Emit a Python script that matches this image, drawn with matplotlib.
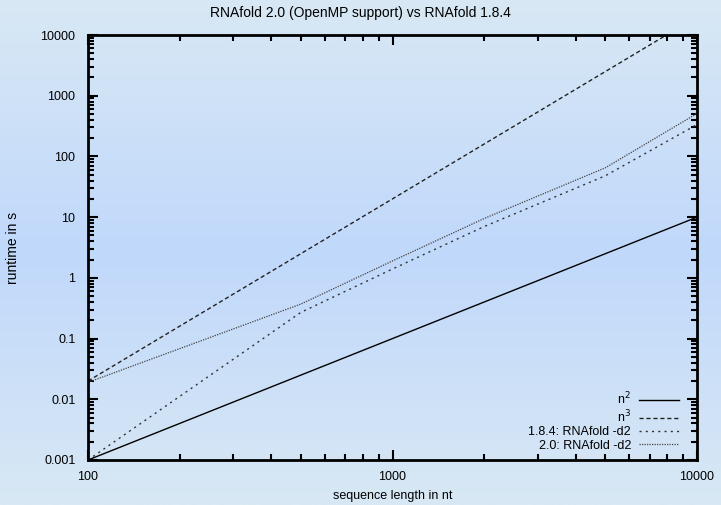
import matplotlib.pyplot as plt
import numpy as np
from matplotlib.colors import LinearSegmentedColormap

plt.rcParams['font.family'] = ['Liberation Sans', 'DejaVu Sans']

# data
length = [100, 500, 1000, 2000, 5000, 10000]
rt_184 = [0.001, 0.27, 1.4, 7.0, 48, 335]
rt_20 = [0.019, 0.37, 1.9, 9.5, 65, 510]
n_ref = [100, 10000]
scale_n2 = 1e-7
scale_n3 = 2e-8

fig = plt.figure(figsize=(7.21, 5.05), dpi=100)

# background gradient
bg = fig.add_axes([0, 0, 1, 1], zorder=-10)
cmap = LinearSegmentedColormap.from_list('bg', ['#d8e8f4', '#c0d8fb', '#d8e8f4'])
grad = np.linspace(0, 1, 256).reshape(-1, 1)
bg.imshow(grad, aspect='auto', cmap=cmap, extent=[0, 1, 0, 1])
bg.axis('off')

ax = fig.add_axes([88 / 721, 1 - 460 / 505, 609 / 721, 425 / 505])
ax.patch.set_alpha(0)

n = np.array(n_ref, dtype=float)
ax.plot(n, scale_n2 * n ** 2, color='black', lw=1.0, label='n$^2$')
ax.plot(n, scale_n3 * n ** 3, color='#222222', lw=1.0, ls=(0, (3, 2)), label='n$^3$')
ax.plot(length, rt_184, color='#333333', lw=1.0, ls=(0, (1.5, 3)), label='1.8.4: RNAfold -d2')
ax.plot(length, rt_20, color='#444444', lw=0.9, ls=(0, (1, 1)), label='2.0: RNAfold -d2')

ax.set_xscale('log')
ax.set_yscale('log')
ax.set_xlim(100, 10000)
ax.set_ylim(0.001, 10000)
ax.set_xticks([100, 1000, 10000])
ax.set_xticklabels(['100', '1000', '10000'])
ax.set_yticks([0.001, 0.01, 0.1, 1, 10, 100, 1000, 10000])
ax.set_yticklabels(['0.001', '0.01', '0.1', '1', '10', '100', '1000', '10000'])
ax.tick_params(which='both', direction='in', top=True, right=True, labelsize=9, width=1.5)
ax.tick_params(which='major', length=7)
ax.tick_params(which='minor', length=4)
ax.tick_params(axis='y', which='major', pad=9)
ax.tick_params(axis='x', which='major', pad=8)
for s in ax.spines.values():
    s.set_linewidth(2)

ax.set_xlabel('sequence length in nt', fontsize=9, labelpad=5)
fig.text(13 / 721, 1 - 248 / 505, 'runtime in s', fontsize=10,
         rotation=90, ha='center', va='center')
fig.text(0.5, 1 - 13 / 505, 'RNAfold 2.0 (OpenMP support) vs RNAfold 1.8.4',
         fontsize=10, ha='center', va='center')

ax.legend(loc='lower right', bbox_to_anchor=(0.978, 0.008), frameon=False,
          markerfirst=False, fontsize=9, handlelength=3.2, labelspacing=0.1,
          borderaxespad=0, handletextpad=0.6)

plt.savefig('out.png', dpi=100)
